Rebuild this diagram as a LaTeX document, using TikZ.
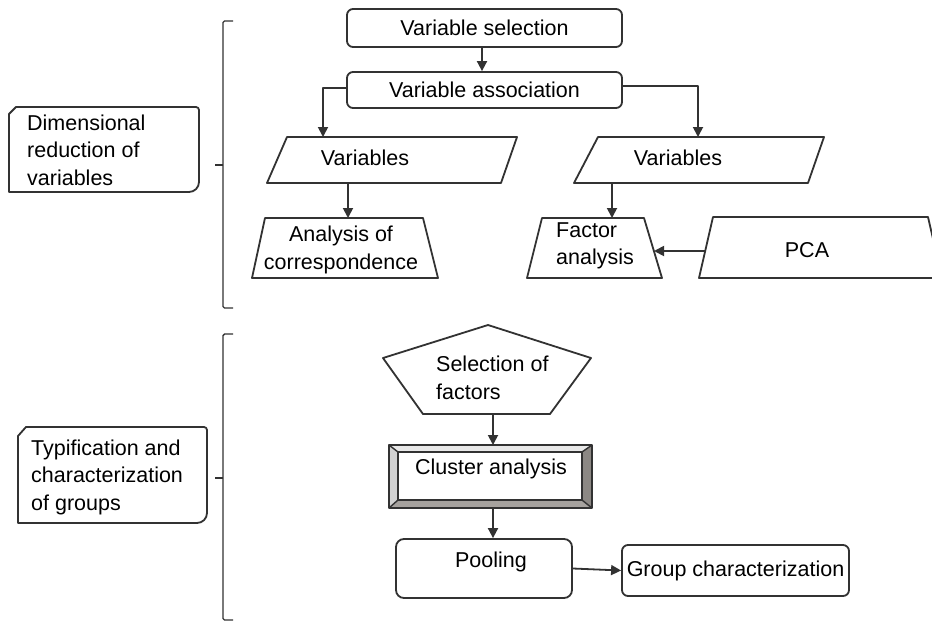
\documentclass[tikz,border=0pt]{standalone}
\usepackage{fontspec}
\setmainfont{Liberation Sans}
\usetikzlibrary{arrows.meta}
\definecolor{lc}{RGB}{50,50,50}
\definecolor{bevtop}{RGB}{232,232,232}
\definecolor{bevleft}{RGB}{210,210,210}
\definecolor{bevright}{RGB}{140,136,132}
\definecolor{bevbot}{RGB}{166,162,158}
\begin{document}
\begin{tikzpicture}[x=1pt,y=-1pt,
  ln/.style={draw=lc,line width=1.8pt,line join=round},
  thin/.style={draw=lc,line width=1.4pt},
  arr/.style={ln,-{Triangle[length=10pt,width=10pt]}},
  lbl/.style={inner sep=0pt,font=\fontsize{21.5}{27.5}\selectfont,text=black},
  rbox/.style={ln,rounded corners=6pt,inner sep=0pt,font=\fontsize{21.5}{27.5}\selectfont,text=black}]
\useasboundingbox (0,0) rectangle (932,622);
\clip (0,0) rectangle (932,622);
\fill[white] (0,0) rectangle (932,622);

% ---------- top part ----------
\node[rbox,minimum width=275pt,minimum height=38pt] (vsel) at (484.5,28) {Variable selection};
\node[rbox,minimum width=275pt,minimum height=36pt] (vasc) at (484.5,90) {Variable association};

% left Variables (parallelogram)
\draw[ln] (287,137) -- (517,137) -- (501,183) -- (267,183) -- cycle;
\node[lbl] (lvar) at (365,158) {Variables};
\coordinate (lvtop) at (323,137);
\coordinate (lvbot) at (348,183);

% right Variables (parallelogram)
\draw[ln] (598,137) -- (824,137) -- (808,183) -- (574,183) -- cycle;
\node[lbl] (rvar) at (678,158) {Variables};
\coordinate (rvtop) at (698,137);
\coordinate (rvbot) at (612,183);

% Analysis of correspondence (trapezium)
\draw[ln] (265,218) -- (423,218) -- (438,278) -- (252,278) -- cycle;
\node[lbl,align=center] (ana) at (341,250) {Analysis of\\correspondence};
\coordinate (anatop) at (348,218);

% Factor analysis (trapezium)
\draw[ln] (542,218) -- (644,218) -- (662,278) -- (527,278) -- cycle;
\node[lbl,align=left,anchor=west] (fac) at (556,246) {Factor\\analysis};
\coordinate (factop) at (612,218);
\coordinate (facright) at (654,251);

% PCA
\draw[ln] (699,278) -- (713,217) -- (928,217) -- (942,278) -- cycle;
\node[lbl] (pca) at (807,250) {PCA};
\coordinate (pcaleft) at (705,251);

% connectors top
\draw[arr] ([xshift=-2.5pt]vsel.south) -- ([xshift=-2.5pt]vasc.north);
\draw[arr] ([yshift=2pt]vasc.west) -| (lvtop);
\draw[arr] ([yshift=4pt]vasc.east) -| (rvtop);
\draw[arr] (lvbot) -- (anatop);
\draw[arr] (rvbot) -- (factop);
\draw[arr] (pcaleft) -- (facright);

% bracket 1 and label box
\draw[thin,rounded corners=1.5pt] (233,21) -- (223,21) -- (223,308) -- (233,308);
\coordinate (br1) at (223,165);
\coordinate (br1l) at (215,165);
\draw[thin] (br1) -- (br1l);
\draw[ln] (9,114) -- (16,107) -- (196,107) arc[start angle=-90,end angle=0,radius=3]
  -- (199,182) arc[start angle=0,end angle=90,radius=10] -- (9,192) -- cycle;
\node[lbl,align=left,anchor=west] (dim) at (27,150) {Dimensional\\reduction of\\variables};

% ---------- bottom part ----------
\draw[thin,rounded corners=1.5pt] (233,334) -- (223,334) -- (223,620) -- (233,620);
\coordinate (br2) at (223,478);
\coordinate (br2l) at (215,478);
\draw[thin] (br2) -- (br2l);
\draw[ln] (18,436) -- (26,427) -- (204,427) arc[start angle=-90,end angle=0,radius=3]
  -- (207,513) arc[start angle=0,end angle=90,radius=10] -- (18,523) -- cycle;
\node[lbl,align=left,anchor=west] (typ) at (31,477) {Typification and\\characterization\\of groups};

% Selection of factors (pentagon)
\draw[ln] (488,325) -- (591,358) -- (550,414) -- (423,414) -- (383,358) -- cycle;
\node[lbl,align=left,anchor=west] (sel) at (436,378) {Selection of\\factors};
\coordinate (selbot) at (493,414);

% Cluster analysis (bevelled frame)
\fill[bevtop] (389,445) -- (592,445) -- (582,452) -- (398,452) -- cycle;
\fill[bevleft] (389,445) -- (398,452) -- (398,500) -- (389,508) -- cycle;
\fill[bevright] (592,445) -- (592,508) -- (582,500) -- (582,452) -- cycle;
\fill[bevbot] (389,508) -- (592,508) -- (582,500) -- (398,500) -- cycle;
\draw[thin] (389,445) -- (398,452) (592,445) -- (582,452) (592,508) -- (582,500) (389,508) -- (398,500);
\draw[thin] (398,452) rectangle (582,500);
\draw[ln] (389,445) rectangle (592,508);
\node[lbl] (clu) at (491,469) {Cluster analysis};
\coordinate (clutop) at (493,445);
\coordinate (clubot) at (493,508);

% Pooling and Group characterization
\node[rbox,rounded corners=8pt,minimum width=176pt,minimum height=59pt] (pool) at (484,568.5) {};
\node[lbl] (pooltxt) at (491,562) {Pooling};
\node[rbox,minimum width=227pt,minimum height=51pt] (gc) at (735.5,570.5) {Group characterization};

% connectors bottom
\draw[arr] (selbot) -- (clutop);
\draw[arr] (clubot) -- (clubot |- pool.north);
\draw[arr] (pool.east) -- (gc.west);
\end{tikzpicture}
\end{document}
